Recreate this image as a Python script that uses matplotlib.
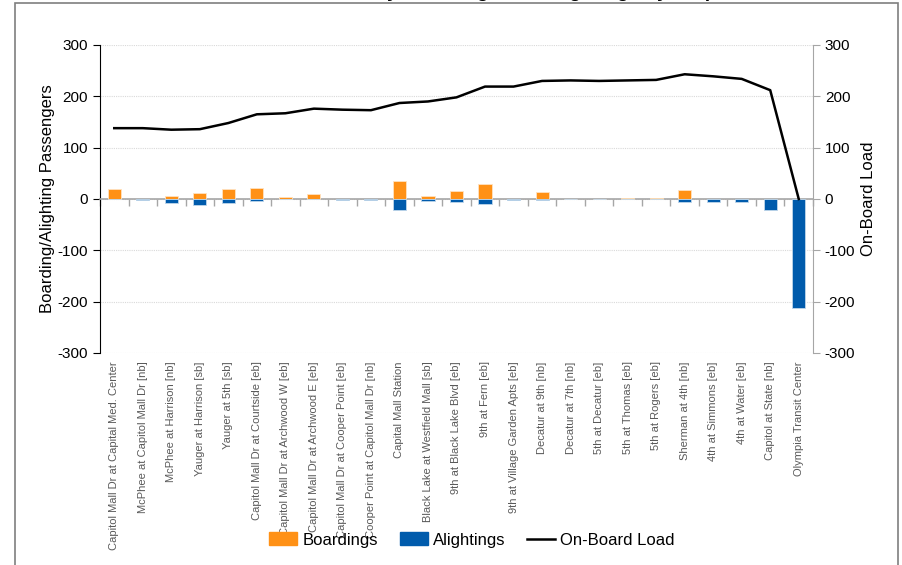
import numpy as np
import matplotlib.pyplot as plt
from matplotlib.patches import Rectangle, Patch
from matplotlib.lines import Line2D

# ---------------------------
# DATA
# ---------------------------
stops = [
    "Capitol Mall Dr at Capital Med. Center",
    "McPhee at Capitol Mall Dr [nb]",
    "McPhee at Harrison [nb]",
    "Yauger at Harrison [sb]",
    "Yauger at 5th [sb]",
    "Capitol Mall Dr at Courtside [eb]",
    "Capitol Mall Dr at Archwood W [eb]",
    "Capitol Mall Dr at Archwood E [eb]",
    "Capitol Mall Dr at Cooper Point [eb]",
    "Cooper Point at Capitol Mall Dr [nb]",
    "Capital Mall Station",
    "Black Lake at Westfield Mall [sb]",
    "9th at Black Lake Blvd [eb]",
    "9th at Fern [eb]",
    "9th at Village Garden Apts [eb]",
    "Decatur at 9th [nb]",
    "Decatur at 7th [nb]",
    "5th at Decatur [eb]",
    "5th at Thomas [eb]",
    "5th at Rogers [eb]",
    "Sherman at 4th [nb]",
    "4th at Simmons [eb]",
    "4th at Water [eb]",
    "Capitol at State [nb]",
    "Olympia Transit Center",
]
boardings = [19, 0, 6, 12, 19, 21, 3, 10, 0, 0, 36, 6, 16, 29, 0, 14, 0, 0, 1, 1, 17, 0, 0, 0, 0]
alightings = [0, 1, 7, 11, 7, 3, 0, 0, 1, 2, 21, 3, 5, 9, 1, 2, 0, 0, 0, 0, 5, 5, 5, 22, 212]
onboard_load = [138, 138, 135, 136, 148, 165, 167, 176, 174, 173, 187, 190, 198, 219, 219,
                230, 231, 230, 231, 232, 243, 239, 234, 212, 0]

ORANGE = "#FF9116"
BLUE = "#005BAC"
GRAY_TXT = "#595959"

plt.rcParams["font.family"] = ["Liberation Sans", "DejaVu Sans"]
plt.rcParams["axes.unicode_minus"] = False

# ---------------------------
# FIGURE
# ---------------------------
fig = plt.figure(figsize=(9.02, 5.65), dpi=100)
ax = fig.add_axes([100 / 902, 1 - 353 / 565, 713 / 902, 308 / 565])
x = np.arange(len(stops))

ax.bar(x, boardings, width=0.46, color=ORANGE, edgecolor="#FFE2C0", linewidth=0.6, zorder=3)
ax.bar(x, [-a for a in alightings], width=0.46, color=BLUE, edgecolor="#BFD6EA", linewidth=0.6, zorder=3)

ax.set_xlim(-0.5, len(stops) - 0.5)
ax.set_ylim(-300, 300)
ax.set_yticks(range(-300, 301, 100))
ax.grid(axis="y", color="#D9D9D9", linestyle=(0, (1, 1)), linewidth=0.8, zorder=0)
ax.tick_params(axis="y", labelsize=11, colors="black", length=5)

ax.spines["top"].set_visible(False)
ax.spines["left"].set_color("black")
ax.spines["right"].set_visible(False)
ax.spines["bottom"].set_position(("data", 0))
ax.spines["bottom"].set_color("#A6A6A6")
ax.spines["bottom"].set_linewidth(1.2)
ax.set_xticks(np.arange(len(stops) + 1) - 0.5)
ax.set_xticklabels([])
ax.tick_params(axis="x", direction="out", length=5, color="#A6A6A6", width=1)

ax.set_ylabel("Boarding/Alighting Passengers", fontsize=12, labelpad=2)

# etiquettes des arrets en bas
sec = ax.secondary_xaxis(0)
sec.set_xticks(x)
sec.set_xticklabels(stops, rotation=90, fontsize=8, color=GRAY_TXT)
sec.tick_params(length=0, pad=6)
sec.spines["bottom"].set_visible(False)

# axe secondaire : charge a bord
ax2 = ax.twinx()
ax2.plot(x, onboard_load, color="black", linewidth=1.8, zorder=4)
ax2.set_ylim(-300, 300)
ax2.set_yticks(range(-300, 301, 100))
ax2.tick_params(axis="y", labelsize=11, length=5, color="#A6A6A6")
for s in ["top", "bottom", "left"]:
    ax2.spines[s].set_visible(False)
ax2.spines["right"].set_color("#A6A6A6")
ax2.set_ylabel("On-Board Load", fontsize=12, labelpad=4)

# legende
handles = [Patch(color=ORANGE), Patch(color=BLUE), Line2D([], [], color="black", linewidth=1.8)]
fig.legend(handles, ["Boardings", "Alightings", "On-Board Load"], loc="center",
           bbox_to_anchor=(472 / 902, 1 - 540 / 565), ncol=3, frameon=False,
           fontsize=12, handlelength=1.7, handleheight=0.8, columnspacing=1.3,
           handletextpad=0.3)

# cadre et titre (coupe en haut)
fig.patches.append(Rectangle((15 / 902, -0.1), 883 / 902, 1.1 - 3 / 565,
                             transform=fig.transFigure, fill=False,
                             edgecolor="#7F7F7F", linewidth=1.2))
fig.text(515 / 902, 1 + 3 / 565, "Weekday Boardings and Alightings by Stop",
         ha="center", va="baseline", fontsize=14, fontweight="bold")

fig.savefig("out.png", dpi=100)
